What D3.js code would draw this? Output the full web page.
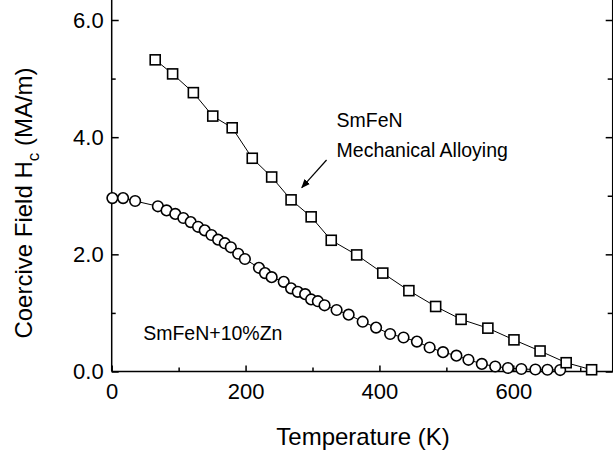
<!DOCTYPE html>
<html>
<head>
<meta charset="utf-8">
<script src="https://cdn.jsdelivr.net/npm/d3@7"></script>
<style>
  body { margin: 0; background: #fff; }
  svg text { font-family: "Liberation Sans", Arial, Helvetica, sans-serif; fill: #000; }
</style>
</head>
<body>
<svg id="chart" width="613" height="451"></svg>
<script>
// SmFeN made by mechanical alloying (squares)
var squareTemp = [65, 91, 122, 151, 180, 210, 239, 268, 298, 328, 366, 405, 444, 484, 522, 562, 601, 640, 679, 717];
var squareHc   = [5.32, 5.08, 4.76, 4.36, 4.16, 3.64, 3.32, 2.93, 2.64, 2.24, 1.99, 1.68, 1.38, 1.11, 0.89, 0.74, 0.54, 0.35, 0.15, 0.03];

// SmFeN + 10% Zn (circles)
var circleTemp = [1, 17, 35, 69, 82, 95, 107, 118, 129, 139, 149, 159, 169, 178, 189, 199, 220, 229, 239, 257,
                  268, 278, 289, 298, 308, 318, 336, 354, 375, 395, 416, 436, 456, 475, 495, 515, 533, 553, 573, 592,
                  612, 633, 651, 670];
var circleHc   = [2.96, 2.96, 2.91, 2.82, 2.75, 2.69, 2.62, 2.55, 2.47, 2.41, 2.33, 2.25, 2.19, 2.12, 2.01, 1.92, 1.77, 1.68, 1.61, 1.53,
                  1.42, 1.36, 1.32, 1.23, 1.20, 1.13, 1.05, 0.97, 0.85, 0.75, 0.64, 0.58, 0.51, 0.41, 0.33, 0.27, 0.20, 0.13, 0.085, 0.06,
                  0.043, 0.034, 0.03, 0.025];

var xMajorTicks = [0, 200, 400, 600];
var xMinorTicks = [100, 300, 500, 700];
var yMajorTicks = [0, 2, 4, 6];
var yMinorTicks = [1, 3, 5];

var svg = d3.select("#chart");

var x = d3.scaleLinear().domain([0, 750]).range([111.7, 613.7]);
var y = d3.scaleLinear().domain([0, 6]).range([371.5, 20]);

var squares = squareTemp.map(function(t, i) { return { t: t, h: squareHc[i] }; });
var circles = circleTemp.map(function(t, i) { return { t: t, h: circleHc[i] }; });

// axes: ticks point inwards
var axisColor = "#000";
function styleAxis(g) {
    g.selectAll("path, line").attr("stroke", axisColor).attr("stroke-width", 1.5);
}

svg.append("g")
    .attr("transform", "translate(0," + y(0) + ")")
    .call(d3.axisBottom(x).tickValues(xMajorTicks).tickSizeInner(-6).tickSizeOuter(0).tickPadding(12).tickFormat(d3.format("d")))
    .call(styleAxis)
    .call(function(g) { g.select(".domain").attr("d", "M" + x.range()[0] + ",0H" + x.range()[1]); })
    .selectAll("text").style("font-size", "22px");

svg.append("g")
    .attr("transform", "translate(0," + y(0) + ")")
    .call(d3.axisBottom(x).tickValues(xMinorTicks).tickSize(-4).tickFormat(""))
    .call(styleAxis)
    .select(".domain").remove();

svg.append("g")
    .attr("transform", "translate(" + x(0) + ",0)")
    .call(d3.axisLeft(y).tickValues(yMajorTicks).tickSizeInner(-7).tickSizeOuter(0).tickPadding(8).tickFormat(d3.format(".1f")))
    .call(styleAxis)
    .call(function(g) { g.select(".domain").attr("d", "M0," + y(0) + "V0"); })
    .selectAll("text").style("font-size", "22px");

svg.append("g")
    .attr("transform", "translate(" + x(0) + ",0)")
    .call(d3.axisLeft(y).tickValues(yMinorTicks).tickSize(-4).tickFormat(""))
    .call(styleAxis)
    .select(".domain").remove();

// right frame
svg.append("g")
    .attr("transform", "translate(" + (x(750) - 1) + ",0)")
    .call(d3.axisRight(y).tickValues(yMajorTicks).tickSizeInner(-7).tickSizeOuter(0).tickFormat(""))
    .call(styleAxis)
    .call(function(g) { g.select(".domain").attr("d", "M0," + y(0) + "V0"); });

svg.append("g")
    .attr("transform", "translate(" + (x(750) - 1) + ",0)")
    .call(d3.axisRight(y).tickValues(yMinorTicks).tickSize(-5).tickFormat(""))
    .call(styleAxis)
    .select(".domain").remove();

// axis titles
svg.append("text")
    .attr("x", 363)
    .attr("y", 445)
    .attr("text-anchor", "middle")
    .style("font-size", "24px")
    .text("Temperature (K)");

var yTitle = svg.append("text")
    .attr("transform", "translate(32,203) rotate(-90)")
    .attr("text-anchor", "middle")
    .style("font-size", "24px");
yTitle.append("tspan").text("Coercive Field H");
yTitle.append("tspan").attr("dy", 7).style("font-size", "17px").text("c");
yTitle.append("tspan").attr("dy", -7).text(" (MA/m)");

// connecting lines
var line = d3.line()
    .x(function(d) { return x(d.t); })
    .y(function(d) { return y(d.h); });

svg.append("path")
    .datum(circles)
    .attr("fill", "none")
    .attr("stroke", "#000")
    .attr("stroke-width", 1)
    .attr("d", line);

svg.append("path")
    .datum(squares)
    .attr("fill", "none")
    .attr("stroke", "#000")
    .attr("stroke-width", 1)
    .attr("d", line);

// markers
svg.selectAll(".circle")
    .data(circles)
    .enter()
    .append("circle")
    .attr("class", "circle")
    .attr("cx", function(d) { return x(d.t); })
    .attr("cy", function(d) { return y(d.h); })
    .attr("r", 5.3)
    .attr("fill", "#fff")
    .attr("stroke", "#000")
    .attr("stroke-width", 1.6);

var sq = 10;
svg.selectAll(".square")
    .data(squares)
    .enter()
    .append("rect")
    .attr("class", "square")
    .attr("x", function(d) { return x(d.t) - sq / 2; })
    .attr("y", function(d) { return y(d.h) - sq / 2; })
    .attr("width", sq)
    .attr("height", sq)
    .attr("fill", "#fff")
    .attr("stroke", "#000")
    .attr("stroke-width", 1.6);

// annotations
svg.append("text")
    .attr("x", x(336))
    .attr("y", y(4.18))
    .style("font-size", "19.5px")
    .text("SmFeN");

svg.append("text")
    .attr("x", x(336))
    .attr("y", y(3.66))
    .style("font-size", "19.5px")
    .text("Mechanical Alloying");

svg.append("text")
    .attr("x", x(47))
    .attr("y", y(0.53))
    .style("font-size", "19.5px")
    .text("SmFeN+10%Zn");

// arrow pointing at the square curve
svg.append("defs").append("marker")
    .attr("id", "arrow")
    .attr("viewBox", "0 0 10 10")
    .attr("refX", 9)
    .attr("refY", 5)
    .attr("markerWidth", 9)
    .attr("markerHeight", 9)
    .attr("orient", "auto")
    .attr("markerUnits", "userSpaceOnUse")
    .append("path")
    .attr("d", "M0,1L10,5L0,9z")
    .attr("fill", "#000");

svg.append("line")
    .attr("x1", x(321))
    .attr("y1", y(3.61))
    .attr("x2", x(284))
    .attr("y2", y(3.14))
    .attr("stroke", "#000")
    .attr("stroke-width", 1.2)
    .attr("marker-end", "url(#arrow)");
</script>
</body>
</html>
